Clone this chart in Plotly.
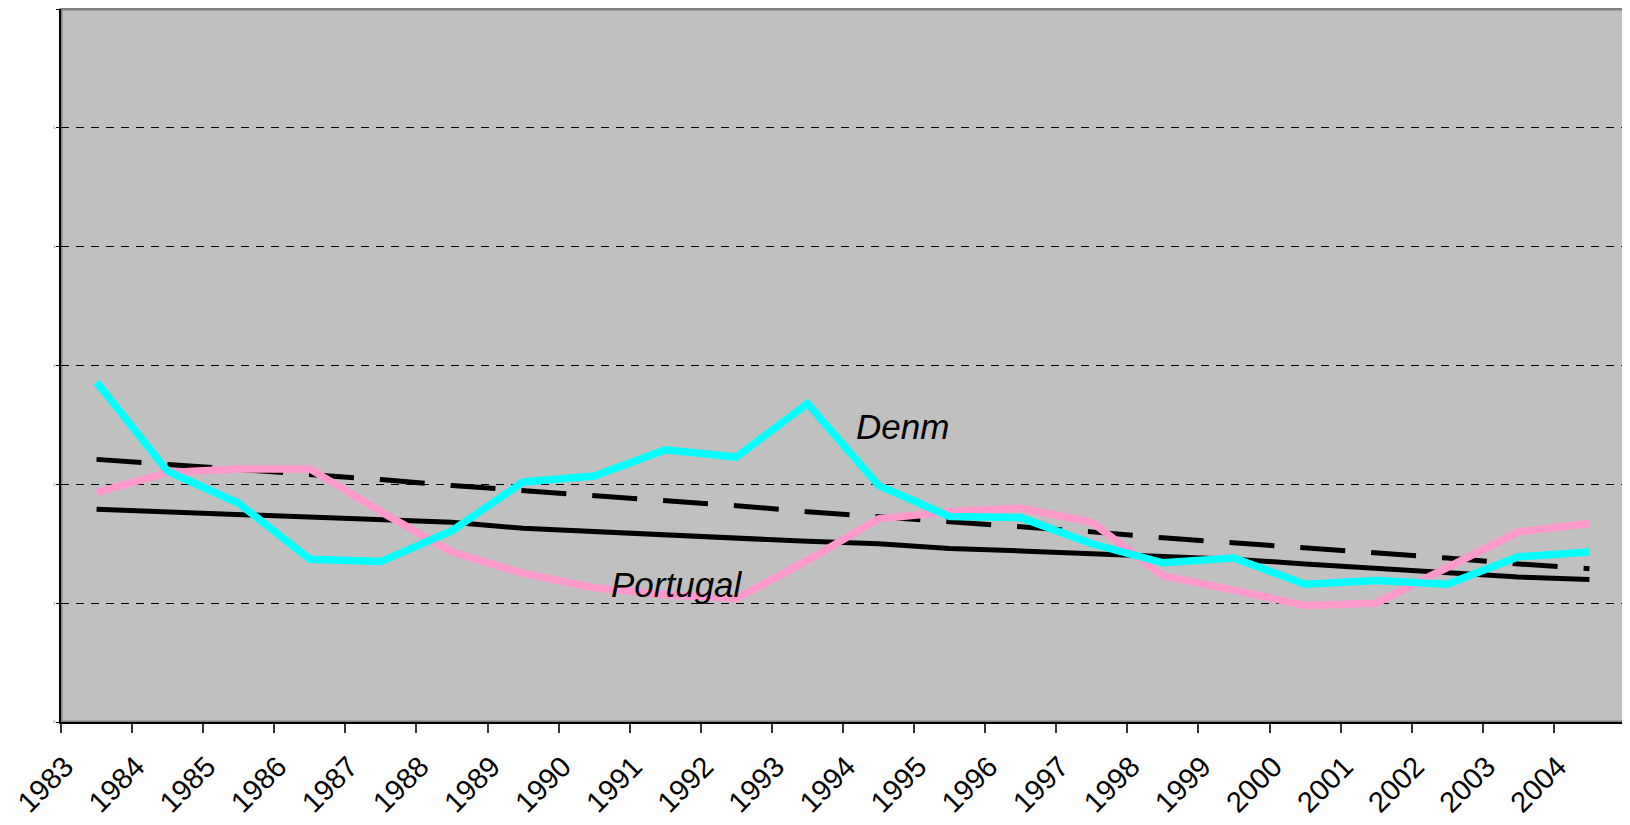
import plotly.graph_objects as go

# years on the category axis, one point per year (drawn mid-category)
years = list(range(1983, 2005))

denmark = [2.86, 2.11, 1.84, 1.37, 1.35, 1.61, 2.02, 2.07, 2.29, 2.23, 2.68,
           1.99, 1.73, 1.72, 1.50, 1.34, 1.38, 1.16, 1.19, 1.16, 1.39, 1.43]
portugal = [1.93, 2.10, 2.13, 2.13, 1.77, 1.43, 1.25, 1.13, 1.07, 1.04, 1.36,
            1.71, 1.77, 1.80, 1.68, 1.23, 1.11, 0.98, 1.00, 1.30, 1.60, 1.67]
denmark_trend = [2.21, 2.17, 2.12, 2.08, 2.04, 1.99, 1.95, 1.90, 1.86, 1.82, 1.77,
                 1.73, 1.68, 1.64, 1.60, 1.55, 1.51, 1.47, 1.42, 1.38, 1.33, 1.29]
portugal_trend = [1.79, 1.77, 1.74, 1.72, 1.70, 1.68, 1.63, 1.60, 1.57, 1.55, 1.52,
                  1.50, 1.46, 1.44, 1.42, 1.40, 1.37, 1.33, 1.29, 1.25, 1.22, 1.20]

y_ticks = [0, 1, 2, 3, 4, 5, 6]
y_labels = ["0", "1", "2", "3", "4", "5", "6"]

x_mid = [y + 0.5 for y in years]

fig = go.Figure()
fig.add_trace(go.Scatter(x=x_mid, y=denmark_trend, mode="lines",
                         line=dict(color="black", width=5, dash="45px,26px")))
fig.add_trace(go.Scatter(x=x_mid, y=portugal_trend, mode="lines",
                         line=dict(color="black", width=5)))
fig.add_trace(go.Scatter(x=x_mid, y=portugal, mode="lines",
                         line=dict(color="#FF99CC", width=7.5)))
fig.add_trace(go.Scatter(x=x_mid, y=denmark, mode="lines",
                         line=dict(color="#00FFFF", width=7.5)))

# plot-area border (grey frame)
fig.add_shape(type="rect", xref="paper", yref="paper", x0=0, x1=1, y0=0, y1=1,
              line=dict(color="#808080", width=3), layer="below")

fig.add_annotation(x=1994.83, y=2.49, text="<i>Denm</i>", showarrow=False,
                   font=dict(family="Liberation Sans, Arial", size=35, color="black"))
fig.add_annotation(x=1991.66, y=1.16, text="<i>Portugal</i>", showarrow=False,
                   font=dict(family="Liberation Sans, Arial", size=35, color="black"))

# page body has an 8px margin, so the figure is sized to fit the window
fig.update_layout(
    width=1622, height=817,
    margin=dict(l=53, r=5, t=1, b=103),
    paper_bgcolor="white",
    plot_bgcolor="#C0C0C0",
    showlegend=False,
    font=dict(family="Liberation Sans, Arial", color="black"),
)
fig.update_xaxes(
    range=[1983, 2005], tickvals=years, ticktext=[str(y) for y in years],
    tickangle=-45, tickfont=dict(size=29, color="black"), automargin=False,
    ticklabeloverflow="allow", ticklabelstandoff=5, ticklabelshift=4,
    ticks="outside", ticklen=9, tickwidth=1.5, tickcolor="#333333",
    showgrid=False, zeroline=False,
    showline=True, linecolor="black", linewidth=2,
)
fig.update_yaxes(
    range=[0, 6], tickvals=y_ticks, ticktext=y_labels,
    tickfont=dict(size=4, color="#606060"), automargin=False,
    ticks="outside", ticklen=3, tickcolor="black",
    showgrid=True, gridcolor="black", gridwidth=1, griddash="8px,7px",
    zeroline=False,
    showline=True, linecolor="black", linewidth=1.5,
)

fig.write_html("out.html")
